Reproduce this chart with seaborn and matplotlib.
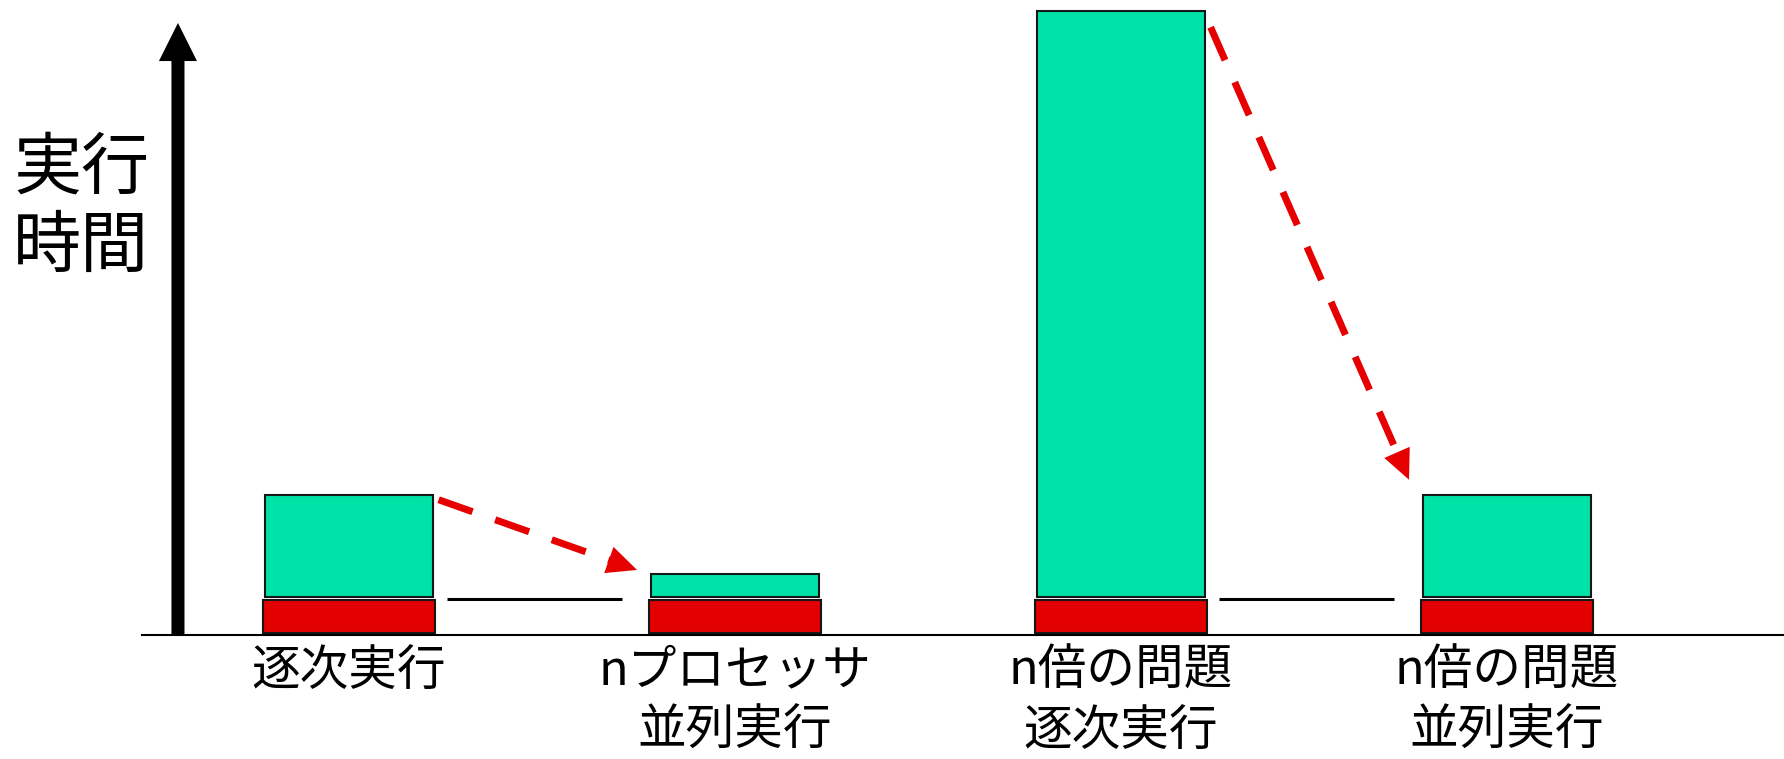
import numpy as np
import pandas as pd
import matplotlib
matplotlib.use("Agg")
import matplotlib.pyplot as plt
import seaborn as sns

# ---- data -------------------------------------------------------------
categories = ["逐次実行", "nプロセッサ\n並列実行", "n倍の問題\n逐次実行", "n倍の問題\n並列実行"]
serial_time = [1.0, 1.0, 1.0, 1.0]          # non-parallelisable part (red)
parallel_time = [3.1, 0.7, 17.75, 3.1]      # parallelisable part (green)
y_label = "実行\n時間"
# (from bar, to bar) pairs joined by a dashed arrow and a serial-level line
transitions = [(0, 1), (2, 3)]

# ---- style ------------------------------------------------------------
GREEN = "#00E3A8"
RED = "#E30000"
ARROW_RED = "#E60000"
EDGE = "#161616"
BASE_LIFT = 0.06      # small lift of the stack above the axis line
SEG_GAP = 0.09        # gap between the red and green segments
RED_W, GREEN_W = 0.447, 0.435
W_PX, H_PX, DPI = 1784, 759, 100

sns.set_theme(style="white")
plt.rcParams["font.family"] = ["Noto Sans CJK JP", "DejaVu Sans"]

fig = plt.figure(figsize=(W_PX / DPI, H_PX / DPI), dpi=DPI)
fig.patch.set_facecolor("white")
ax = fig.add_axes([142 / W_PX, 124 / H_PX, 1642 / W_PX, 635 / H_PX])
ax.set_facecolor("white")

df = pd.DataFrame({"category": categories,
                   "serial": serial_time,
                   "parallel": parallel_time})
df["green_bottom"] = BASE_LIFT + df["serial"] + SEG_GAP
df["top"] = df["green_bottom"] + df["parallel"]

sns.barplot(data=df, x="category", y="serial", order=categories, color=RED,
            saturation=1, width=RED_W, edgecolor=EDGE, linewidth=1.5,
            errorbar=None, bottom=BASE_LIFT, ax=ax, zorder=3)
sns.barplot(data=df, x="category", y="parallel", order=categories, color=GREEN,
            saturation=1, width=GREEN_W, edgecolor=EDGE, linewidth=1.5,
            errorbar=None, bottom=df["green_bottom"].to_numpy(), ax=ax, zorder=3)

ax.set_xlim(-0.536, 3.718)
ax.set_ylim(0, 19.24)

# ---- axes cosmetics -----------------------------------------------------
sns.despine(ax=ax, left=True)
ax.spines["bottom"].set_color("black")
ax.spines["bottom"].set_linewidth(1.5)
ax.set_yticks([])
ax.set_xlabel("")
ax.tick_params(axis="x", length=0, pad=8, labelsize=35, labelcolor="black")
for t in ax.get_xticklabels():
    t.set_linespacing(1.27)

ax.set_ylabel(y_label, rotation=0, fontsize=49, color="black",
              ha="center", va="center", linespacing=1.15)
ax.yaxis.set_label_coords(-0.0371, 0.671)

# vertical time axis drawn as a thick arrow
ax.annotate("", xy=(0.0219, 0.9638), xytext=(0.0219, 0.0),
            xycoords="axes fraction", textcoords="axes fraction",
            arrowprops=dict(arrowstyle="simple,head_length=2.74,head_width=2.74,tail_width=0.94",
                            mutation_scale=10, color="black", lw=0,
                            shrinkA=0, shrinkB=0), zorder=4)

# ---- serial-level reference lines and dashed speed-up arrows ------------
arrow_offsets = {(0, 1): (5, 4), (2, 3): (16, 15)}   # px: drop at start, rise at tip
HEAD_LEN_PX = 30
for src, dst in transitions:
    y_lvl = BASE_LIFT + df.loc[src, "serial"] + 0.02
    ax.plot([src + RED_W / 2 + 0.03, dst - RED_W / 2 - 0.07], [y_lvl, y_lvl],
            color="black", lw=2.2, solid_capstyle="butt", zorder=2)

    drop, rise = arrow_offsets[(src, dst)]
    to_px = ax.transData.transform
    from_px = ax.transData.inverted().transform
    p0 = to_px((src + GREEN_W / 2 + 0.015, df.loc[src, "top"])) - np.array([0, drop])
    p1 = to_px((dst - RED_W / 2 - 0.03, df.loc[dst, "top"])) + np.array([0, rise])
    d = (p1 - p0) / np.hypot(*(p1 - p0))
    shaft_end = p1 - d * HEAD_LEN_PX * 0.85
    s0, s1, tip = from_px(p0), from_px(shaft_end), from_px(p1)
    ax.plot([s0[0], s1[0]], [s0[1], s1[1]], color=ARROW_RED, lw=5.04,
            dashes=(5.14, 3.43), dash_capstyle="butt", zorder=4)
    ax.annotate("", xy=tuple(tip), xytext=tuple(s0),
                arrowprops=dict(arrowstyle="-|>,head_length=2.15,head_width=1.0",
                                mutation_scale=10, color=ARROW_RED, lw=0,
                                shrinkA=0, shrinkB=0), zorder=4)

fig.savefig("out.png", dpi=DPI, facecolor="white")
